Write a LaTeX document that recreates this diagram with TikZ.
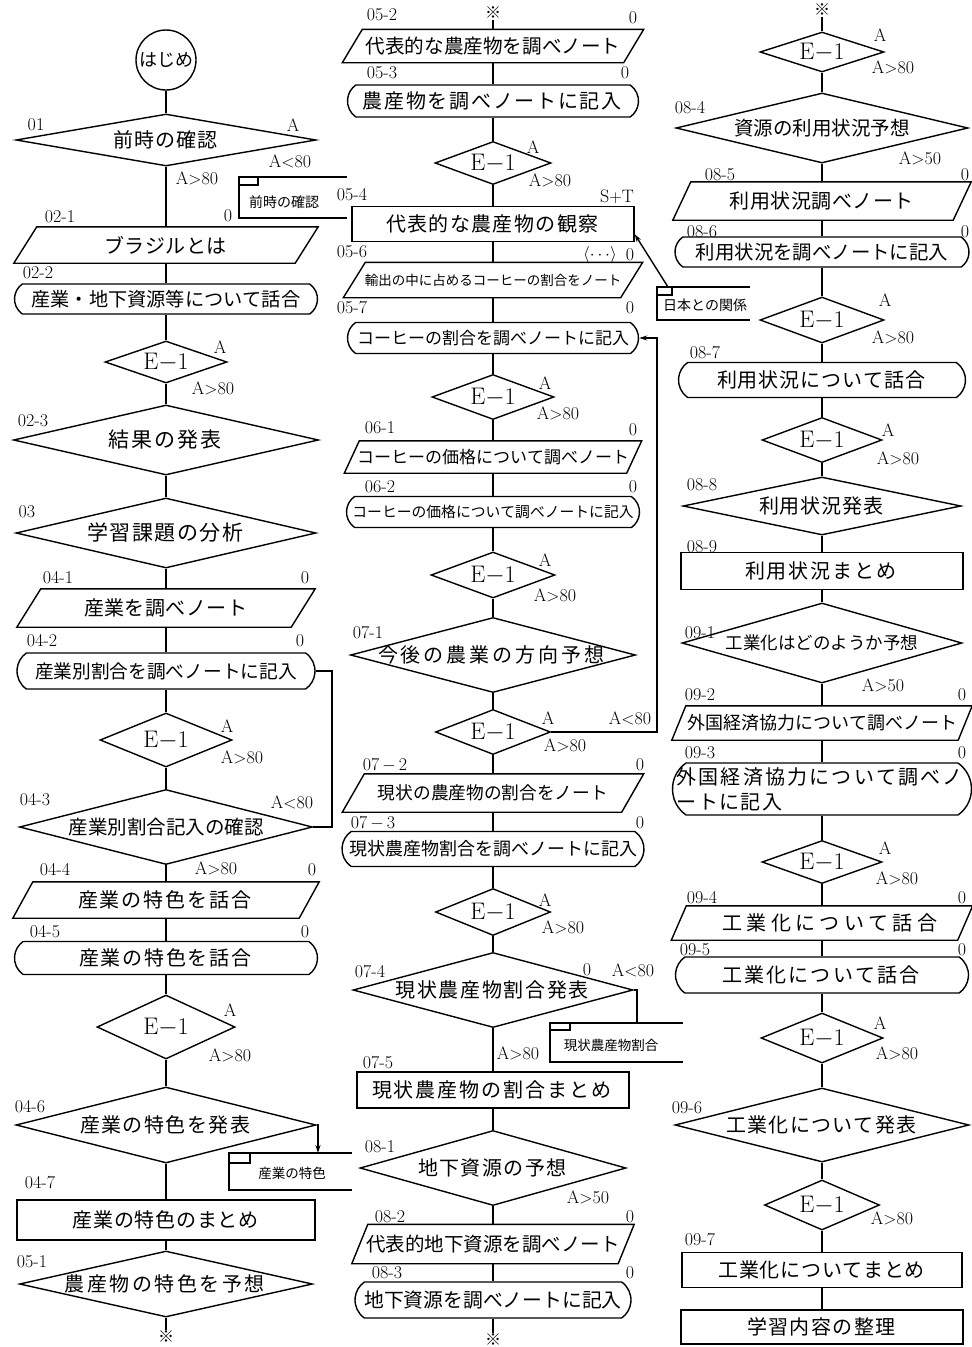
\documentclass[tikz,border=0pt]{standalone}
\usepackage{fontspec}
\newfontfamily\jp{Noto Sans CJK JP}
\usetikzlibrary{shapes.geometric,shapes.misc,calc,arrows.meta}
\newdimen\spk
\def\spc#1{\ifx\relax#1\else#1\kern\spk\expandafter\spc\fi}
\newcommand\jj[3][0]{{\jp\fontsize{#2}{#2}\selectfont\spk=#1pt\relax\kern-0.5\spk\spc#3\relax\kern-0.5\spk}}
\tikzset{
 dm/.style 2 args={draw, diamond, inner sep=0pt, minimum width=#1pt, minimum height=#2pt},
 eone/.style 2 args={dm={#1}{#2}, label={[font=\fontsize{24}{24}\selectfont, inner sep=0pt]center:E$-$1}},
 rb/.style 2 args={draw, rounded rectangle, rounded rectangle arc length=110, inner sep=0pt, minimum width=#1pt, minimum height=#2pt},
 bx/.style 2 args={draw, rectangle, inner sep=0pt, minimum width=#1pt, minimum height=#2pt},
 pb/.style 2 args={rectangle, inner sep=0pt, minimum width=#1pt, minimum height=#2pt},
 lab/.style={inner sep=0pt, font=\fontsize{18}{18}\selectfont},
 kome/.style={inner sep=0pt, font=\jp\fontsize{16}{16}\selectfont},
 arr/.style={-{Stealth[length=8pt,width=5pt]}},
}
\begin{document}
\begin{tikzpicture}[x=1pt,y=-1pt,line width=1.4pt]
\useasboundingbox (0,0) rectangle (972,1347);
% ---------------- column 1 ----------------
\node[draw, circle, minimum size=60pt, inner sep=0pt] (start) at (166,60) {\jj{18}{はじめ}};
\node[dm={300}{52}, label={center:\jj[1]{20}{前時の確認}}] (d01) at (166,140) {};
\node[pb={303}{35}, label={center:\jj[0.5]{20}{ブラジルとは}}] (p021) at (166,245) {};
\node[rb={303}{30}, label={center:\jj{19.2}{産業・地下資源等について話合}}] (r022) at (166,299) {};
\node[eone={122}{42}] (e1a) at (166,362) {};
\node[dm={305}{70}, label={center:\jj[2]{21}{結果の発表}}] (d023) at (166,440) {};
\node[dm={300}{70}, label={center:\jj[1.5]{21}{学習課題の分析}}] (d03) at (166,533) {};
\node[pb={297}{37}, label={center:\jj[0.5]{20}{産業を調べノート}}] (p041) at (166,608) {};
\node[rb={298}{36}, label={center:\jj{18.7}{産業別割合を調べノートに記入}}] (r042) at (166,671) {};
\node[eone={132}{54}] (e1b) at (166,740) {};
\node[dm={293}{75}, label={center:\jj{19.5}{産業別割合記入の確認}}] (d043) at (166,827) {};
\node[pb={305}{35}, label={center:\jj[2]{20}{産業の特色を話合}}] (p044) at (166,900) {};
\node[rb={303}{33}, label={center:\jj[1.7]{20}{産業の特色を話合}}] (r045) at (166,958) {};
\node[eone={138}{64}] (e1c) at (166,1027) {};
\node[dm={300}{76}, label={center:\jj[1.5]{20}{産業の特色を発表}}] (d046) at (166,1125) {};
\node[bx={298}{40}, label={center:\jj[0.7]{20}{産業の特色のまとめ}}] (r047) at (166,1220) {};
\node[dm={293}{66}, label={center:\jj[2.5]{20}{農産物の特色を予想}}] (d051) at (166,1284) {};
\node[kome] (k1) at (166,1337) {※};
% ---------------- column 2 ----------------
\node[kome] (k2) at (493,13) {※};
\node[pb={300}{32}, label={center:\jj{19.6}{代表的な農産物を調べノート}}] (p052) at (493,46) {};
\node[rb={291}{32}, label={center:\jj[1.7]{20}{農産物を調べノートに記入}}] (r053) at (493,101) {};
\node[eone={116}{43}] (e2a) at (493,163) {};
\node[bx={282}{35}, label={center:\jj[1.4]{20}{代表的な農産物の観察}}] (r054) at (493,224) {};
\node[pb={298}{34}, label={center:\jj{13.5}{輸出の中に占めるコーヒーの割合をノート}}] (p056) at (493,280) {};
\node[rb={291}{31}, label={center:\jj{17}{コーヒーの割合を調べノートに記入}}] (r057) at (493,338) {};
\node[eone={122}{45}] (e2b) at (493,397) {};
\node[pb={296}{31}, label={center:\jj{17}{コーヒーの価格について調べノート}}] (p061) at (493,457) {};
\node[rb={293}{31}, label={center:\jj{14.8}{コーヒーの価格について調べノートに記入}}] (r062) at (493,512) {};
\node[eone={124}{46}] (e2c) at (493,575) {};
\node[dm={285}{75}, label={center:\jj[3]{20}{今後の農業の方向予想}}] (d071) at (493,655) {};
\node[eone={115}{45}] (e2d) at (493,732) {};
\node[pb={300}{37}, label={center:\jj{17.7}{現状の農産物の割合をノート}}] (p072) at (493,793) {};
\node[rb={302}{35}, label={center:\jj{18}{現状農産物割合を調べノートに記入}}] (r073) at (493,849) {};
\node[eone={115}{47}] (e2e) at (493,912) {};
\node[dm={280}{75}, label={center:\jj[1.7]{20}{現状農産物割合発表}}] (d074) at (493,990) {};
\node[bx={272}{36}, label={center:\jj[2]{20}{現状農産物の割合まとめ}}] (r075) at (493,1090) {};
\node[dm={266}{75}, label={center:\jj[1.4]{20}{地下資源の予想}}] (d081) at (493,1168) {};
\node[pb={281}{38}, label={center:\jj{19.5}{代表的地下資源を調べノート}}] (p082) at (493,1244) {};
\node[rb={276}{36}, label={center:\jj{19.8}{地下資源を調べノートに記入}}] (r083) at (493,1300) {};
\node[kome] (k3) at (493,1340) {※};
% ---------------- column 3 ----------------
\node[kome] (k4) at (822,10) {※};
\node[eone={124}{40}] (e3a) at (822,52) {};
\node[dm={292}{70}, label={center:\jj{19.5}{資源の利用状況予想}}] (d084) at (822,128) {};
\node[pb={297}{37}, label={center:\jj[0.5]{20}{利用状況調べノート}}] (p085) at (822,201) {};
\node[rb={294}{30}, label={center:\jj{19.4}{利用状況を調べノートに記入}}] (r086) at (822,252) {};
\node[eone={124}{46}] (e3b) at (822,320) {};
\node[rb={287}{35}, label={center:\jj[1]{20}{利用状況について話合}}] (r087) at (822,380) {};
\node[eone={120}{45}] (e3c) at (822,440) {};
\node[dm={278}{58}, label={center:\jj[1]{20}{利用状況発表}}] (d088) at (822,506) {};
\node[bx={282}{37}, label={center:\jj[2]{20}{利用状況まとめ}}] (r089) at (822,571) {};
\node[dm={280}{80}, label={center:\jj{17.5}{工業化はどのようか予想}}] (d091) at (822,643) {};
\node[pb={299}{33}, label={center:\jj{18}{外国経済協力について調べノート}}] (p092) at (822,723) {};
\node[rb={299}{52}] (r093) at (822,789) {};
\node[anchor=west, align=left, inner sep=0pt, font=\jp\fontsize{20}{25}\selectfont] (t093) at ($(r093.west)+(5,0)$) {\jj[2.2]{20}{外国経済協力について調べノ}\\\jj[1.3]{20}{ートに記入}};
\node[eone={120}{43}] (e3d) at (822,862) {};
\node[pb={300}{33}, label={[xshift=10pt]center:\jj[4.3]{20}{工業化について話合}}] (p094) at (822,923) {};
\node[rb={293}{36}, label={center:\jj[2.2]{20}{工業化について話合}}] (r095) at (822,975) {};
\node[eone={122}{50}] (e3e) at (822,1038) {};
\node[dm={294}{74}, label={center:\jj[1.3]{20}{工業化について発表}}] (d096) at (822,1125) {};
\node[eone={115}{50}] (e3f) at (822,1205) {};
\node[bx={280}{35}, label={center:\jj[0.7]{20}{工業化についてまとめ}}] (r097) at (822,1270) {};
\node[bx={282}{34}, label={center:\jj[1.4]{20}{学習内容の整理}}] (rfin) at (822,1327) {};
% parallelogram outlines
\foreach \n/\s in {p021/23,p041/24,p044/20,p052/20,p056/22,p061/15,p072/22,p082/16,p085/18,p092/14,p094/15}
  \draw ($(\n.north west)+(\s,0)$) -- (\n.north east) -- ($(\n.south east)+(-\s,0)$) -- (\n.south west) -- cycle;
% vertical connectors
\foreach \a/\b in {start/d01,d01/p021,p021/r022,r022/e1a,e1a/d023,d023/d03,d03/p041,p041/r042,r042/e1b,e1b/d043,d043/p044,p044/r045,r045/e1c,e1c/d046,d046/r047,r047/d051,d051/k1,
  k2/p052,p052/r053,r053/e2a,e2a/r054,r054/p056,p056/r057,r057/e2b,e2b/p061,p061/r062,r062/e2c,e2c/d071,d071/e2d,e2d/p072,p072/r073,r073/e2e,e2e/d074,d074/r075,r075/d081,d081/p082,p082/r083,r083/k3,
  k4/e3a,e3a/d084,d084/p085,p085/r086,r086/e3b,e3b/r087,r087/e3c,e3c/d088,d088/r089,r089/d091,d091/p092,p092/r093,r093/e3d,e3d/p094,p094/r095,r095/e3e,e3e/d096,d096/e3f,e3f/r097,r097/rfin}
  \draw (\a) -- (\b);
% callouts
\node[inner sep=0pt] (c1) at (284,202) {\jj{14}{前時の確認}};
\draw (347,177) -- (239,177) -- (239,218) -- (347,218);
\draw (239,185) -- (258,185) -- (258,177);
\node[inner sep=0pt] (c2) at (292,1173) {\jj{13.5}{産業の特色}};
\draw (352,1153) -- (229,1153) -- (229,1190) -- (352,1190);
\draw (229,1163) -- (250,1163) -- (250,1153);
\node[inner sep=0pt] (c3) at (705,305) {\jj{14}{日本との関係}};
\draw (750,287) -- (657,287) -- (657,320) -- (750,320);
\draw (657,295) -- (672,295) -- (672,287);
\node[inner sep=0pt] (c4) at (611,1045) {\jj{13.5}{現状農産物割合}};
\draw (683,1023) -- (550,1023) -- (550,1062) -- (683,1062);
\draw (550,1030) -- (570,1030) -- (570,1023);
% side connectors
\coordinate (c2a) at (318,1153);
\draw[arr] (d046.east) -| (c2a);
\coordinate (c4a) at (637,1023);
\draw (d074.east) -| (c4a);
\coordinate (c3a) at (668,287);
\draw[arr] (c3a) -- ($(r054.south east)+(0,-8)$);
\coordinate (lp1) at (657,732);
\coordinate (lp2) at (657,338);
\draw[arr] (e2d.east) -- (lp1) -- (lp2) -- (r057.east);
\coordinate (lq1) at (332,671);
\coordinate (lq2) at (332,827);
\draw (r042.east) -- (lq1) -- (lq2) -- (d043.east);
% small labels
\foreach \x/\y/\t [count=\i] in {
 36/125/01, 293/125/A, 290/161/A$<$80, 197/178/A$>$80, 228/216/0, 60/217/02-1, 38/273/02-2,
 220/347/A, 213/388/A$>$80, 33/421/02-3, 27/512/03, 58/578/04-1, 305/578/0, 42/641/04-2, 300/641/0,
 227/726/A, 242/757/A$>$80, 35/800/04-3, 292/802/A$<$80, 216/868/A$>$80, 312/870/0, 55/870/04-4,
 45/932/04-5, 305/932/0, 230/1010/A, 230/1055/A$>$80, 30/1107/04-6, 40/1183/04-7, 32/1262/05-1,
 382/15/05-2, 633/18/0, 382/73/05-3, 625/73/0, 533/147/A, 550/180/A$>$80, 352/195/05-4, 617/197/S$+$T,
 352/252/05-6, 600/255/{$\langle\cdots\rangle$}, 630/255/0, 352/308/05-7, 630/308/0,
 545/383/A, 558/413/A$>$80, 380/428/06-1, 633/430/0, 380/487/06-2, 633/487/0,
 545/560/A, 555/595/A$>$80, 368/633/07-1, 548/718/A, 630/718/A$<$80, 565/745/A$>$80,
 385/765/07\,$-$\,2, 640/765/0, 373/823/07\,$-$\,3, 640/823/0, 545/900/A, 563/927/A$>$80,
 370/972/07-4, 587/970/0, 633/970/A$<$80, 518/1053/A$>$80, 378/1063/07-5,
 380/1147/08-1, 588/1197/A$>$50, 390/1217/08-2, 630/1217/0, 387/1273/08-3, 630/1273/0,
 880/35/A, 893/67/A$>$80, 690/108/08-4, 920/158/A$>$50, 720/175/08-5, 965/175/0,
 702/232/08-6, 965/232/0, 885/300/A, 893/337/A$>$80, 705/353/08-7, 888/430/A, 898/458/A$>$80,
 702/485/08-8, 702/547/08-9, 700/633/09-1, 883/685/A$>$50, 700/695/09-2, 962/695/0,
 700/753/09-3, 962/753/0, 885/848/A, 897/878/A$>$80, 702/898/09-4, 962/898/0,
 695/950/09-5, 962/950/0, 880/1023/A, 897/1053/A$>$80, 687/1108/09-6, 892/1218/A$>$80, 700/1240/09-7}
 \node[lab] (lab\i) at (\x,\y) {\t};
\end{tikzpicture}
\end{document}
